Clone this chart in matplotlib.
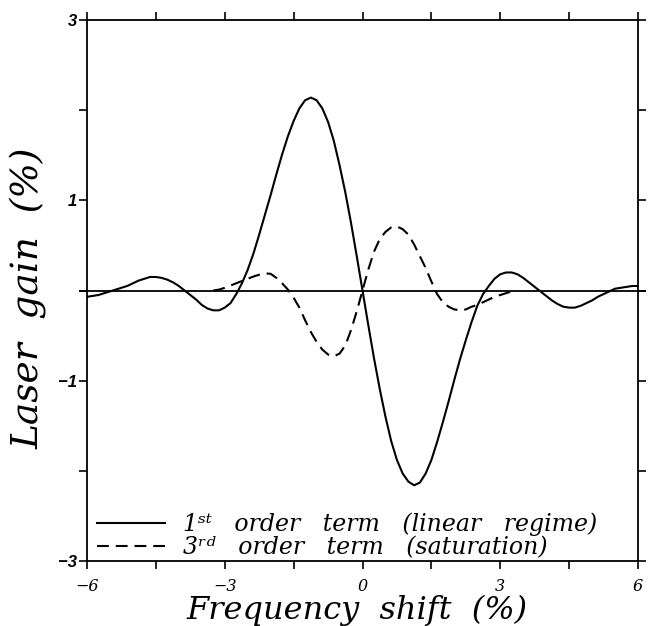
import matplotlib
matplotlib.use("Agg")
import matplotlib.pyplot as plt

# 1st order term (linear regime)
x1 = [-6.0, -5.875, -5.75, -5.625, -5.5, -5.375, -5.25, -5.125, -5.0, -4.875,
      -4.75, -4.625, -4.5, -4.375, -4.25, -4.125, -4.0, -3.875, -3.75, -3.625,
      -3.5, -3.375, -3.25, -3.125, -3.0, -2.875, -2.75, -2.625, -2.5, -2.375,
      -2.25, -2.125, -2.0, -1.875, -1.75, -1.625, -1.5, -1.375, -1.25, -1.125,
      -1.0, -0.875, -0.75, -0.625, -0.5, -0.375, -0.25, -0.125, 0.0,
      0.125, 0.25, 0.375, 0.5, 0.625, 0.75, 0.875, 1.0, 1.125, 1.25,
      1.375, 1.5, 1.625, 1.75, 1.875, 2.0, 2.125, 2.25, 2.375, 2.5,
      2.625, 2.75, 2.875, 3.0, 3.125, 3.25, 3.375, 3.5, 3.625, 3.75,
      3.875, 4.0, 4.125, 4.25, 4.375, 4.5, 4.625, 4.75, 4.875, 5.0,
      5.125, 5.25, 5.375, 5.5, 5.625, 5.75, 5.875, 6.0]
g1 = [-0.07, -0.06, -0.05, -0.03, -0.01, 0.01, 0.03, 0.05, 0.08, 0.11,
      0.13, 0.15, 0.15, 0.14, 0.12, 0.09, 0.05, 0.0, -0.05, -0.10,
      -0.16, -0.20, -0.22, -0.22, -0.19, -0.14, -0.04, 0.08, 0.23, 0.41,
      0.62, 0.84, 1.06, 1.29, 1.51, 1.71, 1.88, 2.02, 2.11, 2.14,
      2.11, 2.02, 1.87, 1.66, 1.39, 1.09, 0.75, 0.38, 0.0,
      -0.38, -0.75, -1.09, -1.40, -1.67, -1.88, -2.03, -2.12, -2.16, -2.13,
      -2.03, -1.88, -1.68, -1.46, -1.23, -0.99, -0.76, -0.55, -0.35, -0.17,
      -0.04, 0.05, 0.13, 0.18, 0.20, 0.20, 0.18, 0.14, 0.09, 0.04,
      -0.01, -0.06, -0.11, -0.15, -0.18, -0.19, -0.19, -0.17, -0.14, -0.11,
      -0.07, -0.04, -0.01, 0.02, 0.03, 0.04, 0.05, 0.05]

# 3rd order term (saturation)
x3 = [-3.25, -3.125, -3.0, -2.875, -2.75, -2.625, -2.5, -2.375, -2.25, -2.125,
      -2.0, -1.875, -1.75, -1.625, -1.5, -1.375, -1.25, -1.125, -1.0, -0.875,
      -0.75, -0.625, -0.5, -0.375, -0.25, -0.125, 0.0,
      0.125, 0.25, 0.375, 0.5, 0.625, 0.75, 0.875, 1.0, 1.125, 1.25,
      1.375, 1.5, 1.625, 1.75, 1.875, 2.0, 2.125, 2.25, 2.375, 2.5,
      2.625, 2.75, 2.875, 3.0, 3.125, 3.25]
g3 = [0.0, 0.01, 0.03, 0.055, 0.08, 0.105, 0.13, 0.155, 0.175, 0.19,
      0.185, 0.14, 0.08, 0.01, -0.08, -0.19, -0.33, -0.46, -0.57, -0.655,
      -0.71, -0.73, -0.70, -0.61, -0.44, -0.23, 0.0,
      0.23, 0.43, 0.57, 0.65, 0.70, 0.71, 0.68, 0.62, 0.51, 0.38,
      0.25, 0.10, -0.04, -0.13, -0.18, -0.21, -0.22, -0.21, -0.18, -0.16,
      -0.13, -0.10, -0.07, -0.05, -0.03, -0.01]

xticks = [-6, -4.5, -3, -1.5, 0, 1.5, 3, 4.5, 6]
xlabels = ["\u22126", "", "\u22123", "", "0", "", "3", "", "6"]
yticks = [-3, -2, -1, 0, 1, 2, 3]
ylabels = ["\u22123", "", "\u22121", "", "1", "", "3"]
names = ["1\u02e2\u1d57   order   term   (linear   regime)",
         "3\u02b3\u1d48   order   term   (saturation)"]

serif = {"family": "DejaVu Serif", "style": "italic"}

fig = plt.figure(figsize=(6.5, 6.26), dpi=100)
ax = fig.add_axes([87/650, 1 - 561/626, 551/650, 541/626])

ax.plot(x1, g1, color="black", lw=1.5, label=names[0])
ax.plot(x3, g3, color="black", lw=1.5, dashes=(5.7, 3.3), label=names[1])
ax.plot([-6.15, 6.15], [0, 0], color="black", lw=1.3, clip_on=False)

ax.set_xlim(-6, 6)
ax.set_ylim(-3, 3)
for s in ax.spines.values():
    s.set_linewidth(1.3)

ax.tick_params(direction="out", length=6, width=1.2, top=True, right=True)
ax.set_xticks(xticks)
ax.set_xticklabels(xlabels, fontsize=11.5, **serif)
ax.set_yticks(yticks)
ax.set_yticklabels(ylabels, family="Liberation Sans", style="italic",
                   weight="bold", fontsize=12)
ax.tick_params(axis="x", pad=6)
ax.tick_params(axis="y", pad=1)

ax.set_xlabel("Frequency  shift  (%)", fontsize=23, **serif)
ax.xaxis.label.set_va("center")
ax.xaxis.set_label_coords(0.49, -0.092)
ax.set_ylabel("Laser  gain  (%)", fontsize=27, **serif)
ax.yaxis.label.set_va("center")
ax.yaxis.set_label_coords(-0.105, 0.485)

ax.legend(loc="lower left", bbox_to_anchor=(0.018, 0.004), frameon=False,
          handlelength=2.9, handletextpad=0.75, borderaxespad=0, borderpad=0,
          labelspacing=0.0,
          prop={"family": ["DejaVu Serif", "DejaVu Sans"], "style": "italic", "size": 17})

fig.savefig("out.png", dpi=100)
